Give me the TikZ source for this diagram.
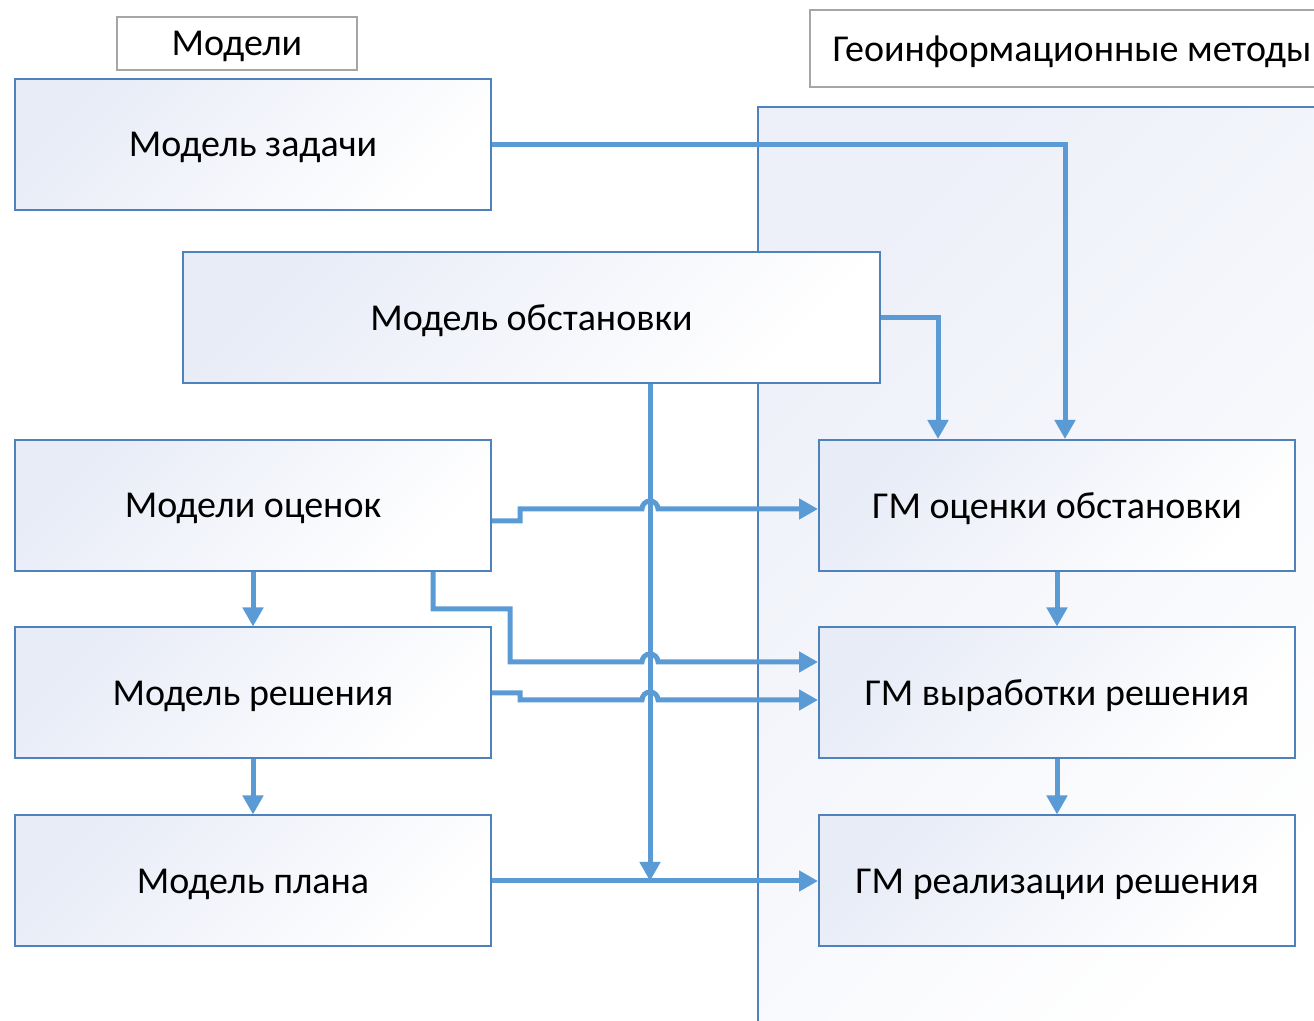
\documentclass[tikz,border=0pt]{standalone}
\usepackage{fontspec}
\setmainfont{Carlito}
\usetikzlibrary{arrows.meta,calc}
\definecolor{linkblue}{RGB}{91,155,213}
\definecolor{boxline}{RGB}{79,129,189}
\definecolor{boxfill}{RGB}{232,236,247}
\definecolor{tagline}{RGB}{166,166,166}
\begin{document}
\begin{tikzpicture}[x=0.5pt,y=-0.5pt]
\tikzset{model/.style = {draw=boxline, line width=1pt, top color=boxfill, bottom color=white, shading angle=45, minimum width=238pt, minimum height=65.5pt, text depth=0pt, font=\fontsize{19}{22}\selectfont}}
\tikzset{tag/.style = {draw=tagline, line width=1pt, fill=white, text depth=0pt, font=\fontsize{19}{22}\selectfont}}
\tikzset{link/.style = {draw=linkblue, line width=2.5pt, -{Triangle[length=9.5pt,width=10pt]}}}
\useasboundingbox (0,0) rectangle (1314,1021);
\begin{scope}
\clip (0,0) rectangle (1314,1021);
\path[draw=boxline, line width=0.8pt, top color=boxfill!80, bottom color=white, shading angle=45] (758,107) rectangle (1340,1050);
\node[tag, minimum width=262pt, minimum height=38.5pt] (geo) at (1072,48.5) {Геоинформационные методы};
\end{scope}
\node[tag, minimum width=120pt, minimum height=26.5pt] (mod) at (237,43.5) {Модели};
\node[model] (mz) at (253,144.5) {Модель задачи};
\node[model, minimum width=348.5pt] (mo) at (531.5,317.5) {Модель обстановки};
\node[model] (mc) at (253,505.5) {Модели оценок};
\node[model] (mr) at (253,693) {Модель решения};
\node[model] (mp) at (253,881) {Модель плана};
\node[model] (go) at (1057,505.5) {ГМ оценки обстановки};
\node[model] (gv) at (1057,693) {ГМ выработки решения};
\node[model] (gr) at (1057,881) {ГМ реализации решения};
\coordinate (bus) at ([xshift=59.25pt]mo.south);
\coordinate (h1) at ($(bus |- go.west)+(-4pt,-1.75pt)$);
\coordinate (h2) at ($(bus |- gv.west)+(-4pt,15.5pt)$);
\coordinate (h3) at ($(bus |- gv.west)+(-4pt,-3.5pt)$);
\draw[link] (bus) -- (bus |- mp.east);
\draw[link] (mz.east) -| ([xshift=4pt]go.north);
\draw[link] (mo.east) -| ([xshift=-59.5pt]go.north);
\draw[link] (mp.east) -- (gr.west);
\draw[link] (mc.south) -- (mr.north);
\draw[link] (mr.south) -- (mp.north);
\draw[link] (go.south) -- (gv.north);
\draw[link] (gv.south) -- (gr.north);
\draw[link] ([yshift=-7.75pt]mc.east) -- ++(14pt,0) |- (h1) arc[start angle=180, end angle=0, radius=4pt] -- ([yshift=-1.75pt]go.west);
\draw[link] ([xshift=90pt]mc.south) -- ++(0,-18.5pt) -- ++(38.5pt,0) |- (h2) arc[start angle=180, end angle=0, radius=4pt] -- ([yshift=15.5pt]gv.west);
\draw[link] (mr.east) -- ++(14pt,0) |- (h3) arc[start angle=180, end angle=0, radius=4pt] -- ([yshift=-3.5pt]gv.west);
\end{tikzpicture}
\end{document}
